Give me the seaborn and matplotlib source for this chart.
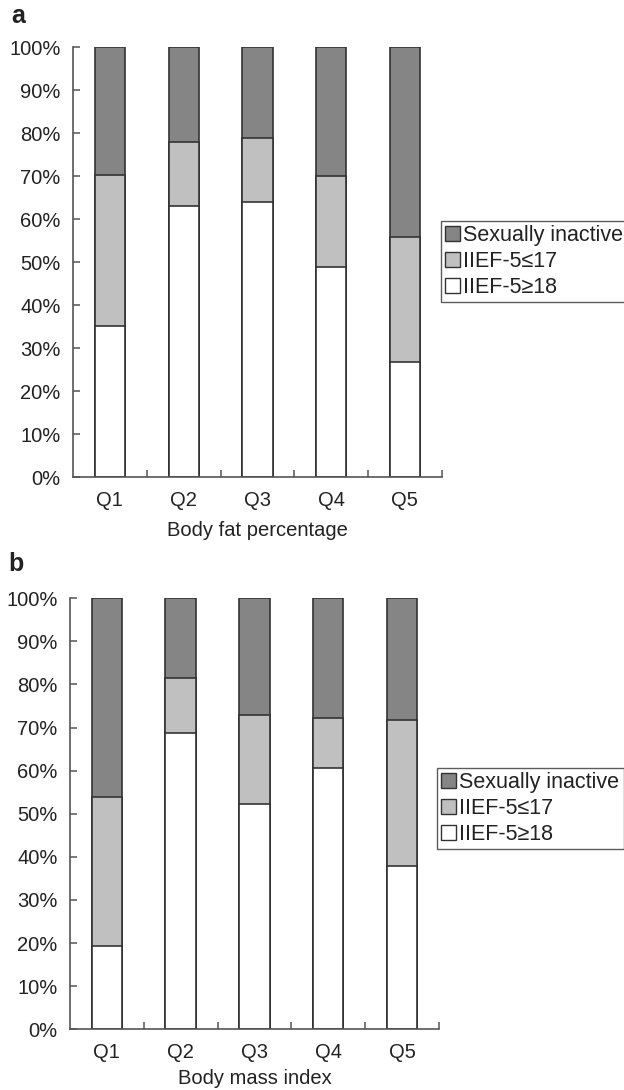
import matplotlib
matplotlib.use("Agg")
import matplotlib.pyplot as plt
import seaborn as sns
import pandas as pd
import numpy as np
from matplotlib.patches import Patch
from matplotlib.ticker import FixedLocator, PercentFormatter

sns.set_style("white")
plt.rcParams['font.family'] = ['Liberation Sans', 'DejaVu Sans']

categories = ["Q1", "Q2", "Q3", "Q4", "Q5"]
series_names = ["Sexually inactive", "IIEF-5\u226417", "IIEF-5\u226518"]

# Panel a: Body fat percentage (percent of group)
a_iief_ge18 = [35.2, 63.1, 64.0, 49.0, 26.7]
a_iief_le17 = [35.1, 14.9, 15.0, 21.0, 29.3]
a_inactive = [29.7, 22.0, 21.0, 30.0, 44.0]

# Panel b: Body mass index (percent of group)
b_iief_ge18 = [19.4, 68.7, 52.3, 60.6, 37.9]
b_iief_le17 = [34.4, 12.9, 20.7, 11.7, 33.8]
b_inactive = [46.2, 18.4, 27.0, 27.7, 28.3]

y_ticks = [0, 10, 20, 30, 40, 50, 60, 70, 80, 90, 100]

colors = {"Sexually inactive": "#858585",
          "IIEF-5\u226417": "#c0c0c0",
          "IIEF-5\u226518": "#ffffff"}
edge = "#333333"
spine_c = "#555555"

fig = plt.figure(figsize=(6.24, 10.9), dpi=100)
ax_a = fig.add_axes([0.117, 0.5621, 0.591, 0.3945])
ax_b = fig.add_axes([0.112, 0.0557, 0.5915, 0.3954])


def draw(ax, ge18, le17, inactive, xlabel, leg_anchor, xlabelpad):
    df = pd.DataFrame({"cat": categories, "ge18": ge18, "le17": le17, "inact": inactive})
    df["top_gray"] = df["ge18"] + df["le17"]
    df["top_all"] = df["top_gray"] + df["inact"]
    for col, name in [("top_all", series_names[0]), ("top_gray", series_names[1]), ("ge18", series_names[2])]:
        sns.barplot(data=df, x="cat", y=col, order=categories, color=colors[name],
                    saturation=1, width=0.41, edgecolor=edge, linewidth=1.2, ax=ax, errorbar=None)
    ax.set_xlim(-0.5, 4.5)
    ax.set_ylim(0, 100)
    ax.yaxis.set_major_locator(FixedLocator(y_ticks))
    ax.yaxis.set_major_formatter(PercentFormatter(decimals=0))
    ax.set_ylabel("")
    ax.set_xlabel(xlabel, fontsize=14.5, labelpad=xlabelpad, color="#222222")
    for s in ["top", "right"]:
        ax.spines[s].set_visible(False)
    for s in ["left", "bottom"]:
        ax.spines[s].set_color(spine_c)
        ax.spines[s].set_linewidth(1.2)
    ax.tick_params(axis="y", direction="in", length=5, width=1.1, color=spine_c,
                   labelsize=14.5, pad=9, left=True, labelcolor="#222222")
    ax.tick_params(axis="x", which="major", length=0, labelsize=14.5, pad=10, labelcolor="#222222")
    ax.xaxis.set_minor_locator(FixedLocator([0.5, 1.5, 2.5, 3.5, 4.5]))
    ax.tick_params(axis="x", which="minor", direction="in", length=5, width=1.1,
                   color=spine_c, bottom=True)
    handles = [Patch(facecolor=colors[n], edgecolor=edge, linewidth=1.0, label=n) for n in series_names]
    leg = ax.legend(handles=handles, loc="upper left", bbox_to_anchor=leg_anchor,
                    frameon=True, fontsize=15.5, handlelength=0.7, handleheight=0.7,
                    handletextpad=0.15, borderpad=0.2, labelspacing=0.22,
                    borderaxespad=0, fancybox=False, labelcolor="#222222")
    leg.get_frame().set_edgecolor("#333333")
    leg.get_frame().set_linewidth(1.0)


draw(ax_a, a_iief_ge18, a_iief_le17, a_inactive, "Body fat percentage", (0.997, 0.596), 8)
draw(ax_b, b_iief_ge18, b_iief_le17, b_inactive, "Body mass index", (0.994, 0.606), 5)

fig.text(0.018, 0.979, "a", fontsize=18, fontweight="bold", va="baseline", color="#222222")
fig.text(0.013, 0.476, "b", fontsize=18, fontweight="bold", va="baseline", color="#222222")

fig.savefig("out.png", dpi=100)
